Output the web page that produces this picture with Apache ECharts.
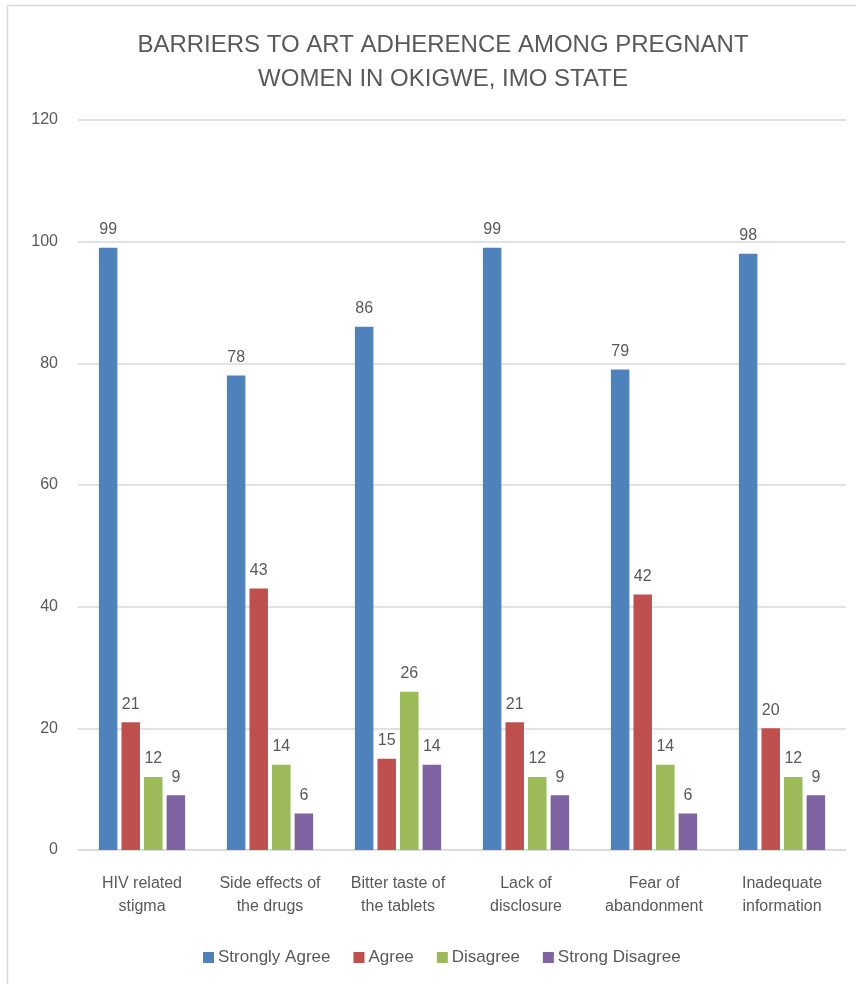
<!DOCTYPE html>
<html>
<head>
<meta charset="utf-8">
<script src="https://cdn.jsdelivr.net/npm/echarts@6/dist/echarts.min.js"></script>
<style>
  html, body { margin: 0; padding: 0; background: #ffffff; }
  #chart { width: 856px; height: 984px; }
</style>
</head>
<body>
<div id="chart"></div>
<script>
// Barriers to ART adherence, responses per barrier
const categories = [
  'HIV related\nstigma',
  'Side effects of\nthe drugs',
  'Bitter taste of\nthe tablets',
  'Lack of\ndisclosure',
  'Fear of\nabandonment',
  'Inadequate\ninformation'
];
const seriesNames = ['Strongly Agree', 'Agree', 'Disagree', 'Strong Disagree'];
const stronglyAgree = [99, 78, 86, 99, 79, 98];
const agree = [21, 43, 15, 21, 42, 20];
const disagree = [12, 14, 26, 12, 14, 12];
const strongDisagree = [9, 6, 14, 9, 6, 9];
const colors = ['#4f81bd', '#c0504d', '#9bbb59', '#8064a2'];

const textColor = '#595959';
const fontFamily = '"Liberation Sans", "Open Sans", sans-serif';

const values = [stronglyAgree, agree, disagree, strongDisagree];

const chart = echarts.init(document.getElementById('chart'));
chart.setOption({
  animation: false,
  color: colors,
  textStyle: { fontFamily: fontFamily, color: textColor },
  title: {
    text: 'BARRIERS TO ART ADHERENCE AMONG PREGNANT\nWOMEN IN OKIGWE, IMO STATE',
    left: 438,
    top: 23,
    textAlign: 'center',
    textStyle: {
      fontFamily: fontFamily,
      fontSize: 24,
      fontWeight: 'normal',
      color: textColor,
      lineHeight: 34
    }
  },
  legend: {
    data: seriesNames,
    bottom: 13,
    left: 198,
    icon: 'rect',
    itemWidth: 11,
    itemHeight: 11,
    itemGap: 23,
    textStyle: { fontSize: 17, color: textColor, fontFamily: fontFamily, padding: [0, 0, 0, -1] }
  },
  grid: { left: 78, right: 10, top: 120, bottom: 134, containLabel: false },
  xAxis: {
    type: 'category',
    data: categories,
    axisLine: { lineStyle: { color: '#d9d9d9', width: 1.5 } },
    axisTick: { show: false },
    axisLabel: {
      fontSize: 16,
      color: textColor,
      lineHeight: 23,
      margin: 22,
      interval: 0
    }
  },
  yAxis: {
    type: 'value',
    min: 0,
    max: 120,
    interval: 20,
    axisLine: { show: false },
    axisTick: { show: false },
    splitLine: { lineStyle: { color: '#d9d9d9', width: 1.5 } },
    axisLabel: { fontSize: 16, color: textColor, margin: 20 }
  },
  series: seriesNames.map((name, i) => ({
    name: name,
    type: 'bar',
    data: values[i],
    barWidth: 18.5,
    barGap: '22%',
    itemStyle: { color: colors[i] },
    label: {
      show: true,
      position: 'top',
      distance: 10,
      fontSize: 16,
      color: textColor
    }
  })),
  graphic: [
    {
      type: 'rect',
      shape: { x: 7.5, y: 5.5, width: 900, height: 1000 },
      style: { fill: 'none', stroke: '#d9d9d9', lineWidth: 1.5 },
      silent: true,
      z: -1
    }
  ]
});
</script>
</body>
</html>
